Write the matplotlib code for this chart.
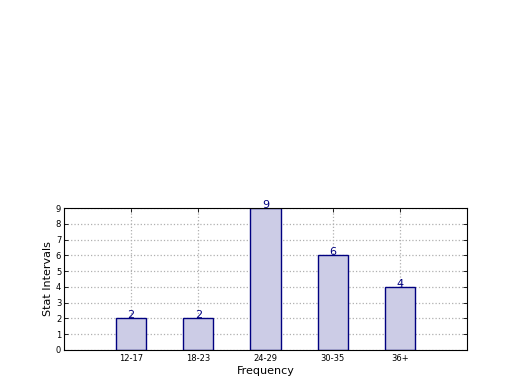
import matplotlib
matplotlib.use("Agg")
import matplotlib.pyplot as plt
import numpy as np

categories = ["12-17", "18-23", "24-29", "30-35", "36+"]
values = [2, 2, 9, 6, 4]

fig = plt.figure(figsize=(5.2, 3.9), dpi=100)
ax = fig.add_axes([0.123, 0.1026, 0.775, 0.364])
x = np.arange(len(categories))
bars = ax.bar(x, values, width=0.45, color=(0.8, 0.8, 0.9), edgecolor="navy", linewidth=1, zorder=2)
for xi, v in zip(x, values):
    ax.text(xi, v, str(v), ha="center", va="baseline", color="navy", fontsize=8, zorder=3)
ax.set_xlim(-1, 5)
ax.set_ylim(0, 9)
ax.set_xticks(x)
ax.set_xticklabels(categories, fontsize=6)
ax.set_yticks(range(0, 10))
ax.tick_params(axis="y", labelsize=6, pad=2)
ax.tick_params(axis="x", pad=3)
ax.tick_params(direction="in", length=3, width=0.6)
ax.tick_params(top=True, right=True)
ax.grid(True, linestyle=":", color="#b0b0b0", linewidth=0.9, zorder=0)
ax.set_axisbelow(True)
ax.set_xlabel("Frequency", fontsize=8, labelpad=2)
ax.set_ylabel("Stat Intervals", fontsize=8, labelpad=2)
fig.savefig("out.png", dpi=100)
